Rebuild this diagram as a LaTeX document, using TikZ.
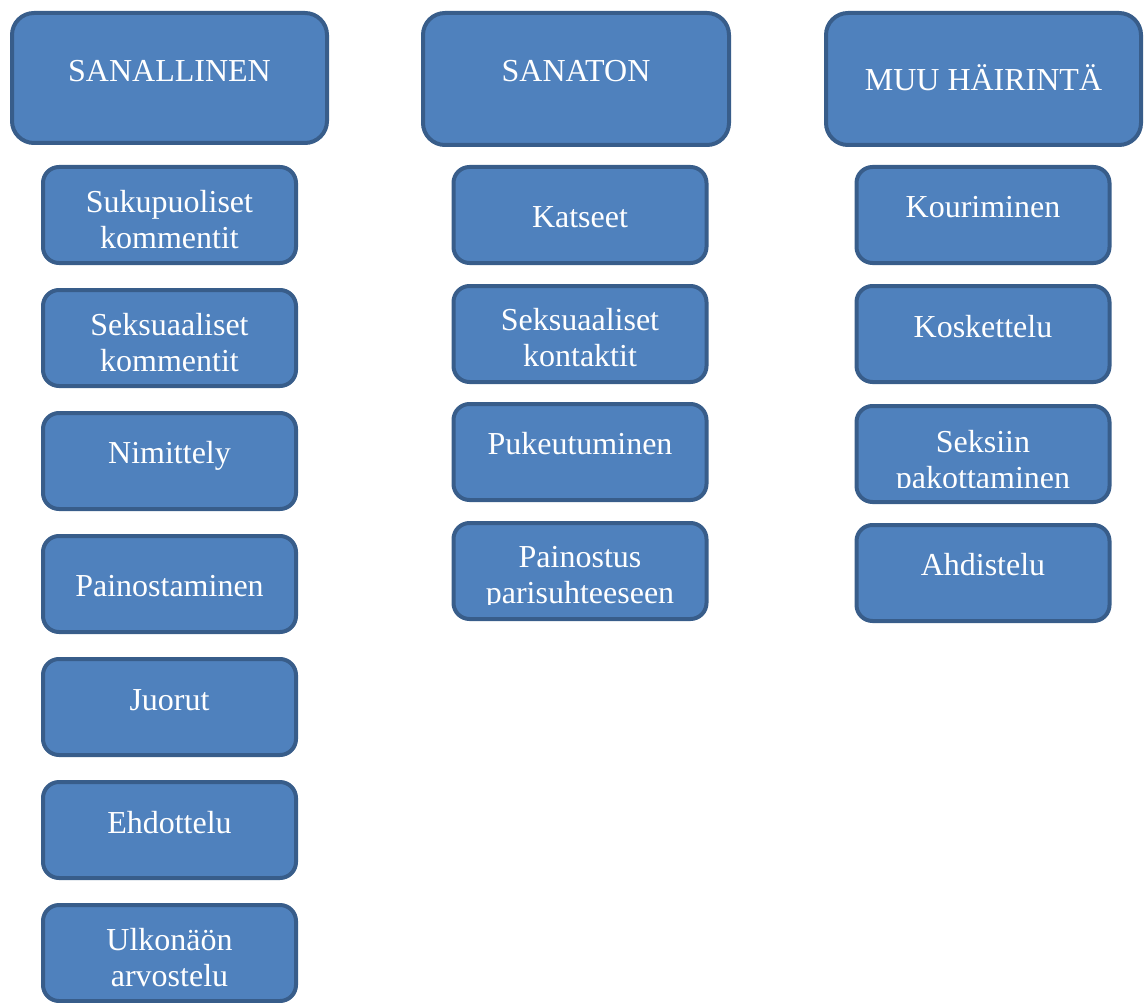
\documentclass[tikz,border=0pt]{standalone}
\usepackage{fontspec}
\setmainfont{Liberation Serif}
\usepackage{xcolor}
\definecolor{boxblue}{HTML}{4F81BD}
\definecolor{boxline}{HTML}{385D8A}

\begin{document}
\begin{tikzpicture}[x=1pt, y=-1pt,
  head/.style={draw=boxline, fill=boxblue, line width=4pt, rounded corners=22pt,
    minimum width=315pt, minimum height=132pt, inner sep=0pt},
  kid/.style={draw=boxline, fill=boxblue, line width=4pt, rounded corners=16pt,
    minimum width=253pt, minimum height=96pt, inner sep=0pt},
  lbl/.style={text=white, font=\fontsize{32}{36}\selectfont, align=center,
    anchor=base, inner sep=0pt}]
\useasboundingbox (0, 0) rectangle (1145, 1003);

\node[head, minimum height=130pt] at (169.5, 78) (sanallinen) {};
\node[head, minimum width=306pt]  at (576, 79)   (sanaton)    {};
\node[head]                       at (983.5, 79) (muu)        {};
\node[lbl] at (169.5, 82) (t-sanallinen) {SANALLINEN};
\node[lbl] at (576, 82)   (t-sanaton)    {SANATON};
\node[lbl] at (983.5, 91) (t-muu)        {MUU HÄIRINTÄ};

\node[kid] at (169.5, 215) (suku)   {};
\node[kid] at (169.5, 338) (seksk)  {};
\node[kid] at (169.5, 461) (nimi)   {};
\node[kid] at (169.5, 584) (paino)  {};
\node[kid] at (169.5, 707) (juoru)  {};
\node[kid] at (169.5, 830) (ehdo)   {};
\node[kid] at (169.5, 953) (ulko)   {};
\node[lbl] at (169.5, 248) (t-suku)  {Sukupuoliset\\kommentit};
\node[lbl] at (169.5, 371) (t-seksk) {Seksuaaliset\\kommentit};
\node[lbl] at (169.5, 463) (t-nimi)  {Nimittely};
\node[lbl] at (169.5, 596) (t-paino) {Painostaminen};
\node[lbl] at (169.5, 710) (t-juoru) {Juorut};
\node[lbl] at (169.5, 833) (t-ehdo)  {Ehdottelu};
\begin{scope}
\clip (ulko.north west) rectangle ([yshift=17pt]ulko.south east);
\node[lbl] at (169.5, 986) (t-ulko)  {Ulkonäön\\arvostelu};
\end{scope}

\node[kid] at (580, 215) (katse)  {};
\node[kid] at (580, 334) (kont)   {};
\node[kid] at (580, 452) (puke)   {};
\node[kid] at (580, 571) (pari)   {};
\node[lbl] at (580, 227) (t-katse) {Katseet};
\node[lbl] at (580, 366) (t-kont)  {Seksuaaliset\\kontaktit};
\node[lbl] at (580, 454) (t-puke)  {Pukeutuminen};
\begin{scope}
\clip (pari.north west) rectangle ([yshift=17pt]pari.south east);
\node[lbl] at (580, 603) (t-pari)  {Painostus\\parisuhteeseen};
\end{scope}

\node[kid] at (983, 215) (kouri)  {};
\node[kid] at (983, 334) (koske)  {};
\node[kid] at (983, 454) (pakko)  {};
\node[kid] at (983, 573) (ahdi)   {};
\node[lbl] at (983, 217) (t-kouri) {Kouriminen};
\node[lbl] at (983, 337) (t-koske) {Koskettelu};
\begin{scope}
\clip (pakko.north west) rectangle ([yshift=17pt]pakko.south east);
\node[lbl] at (983, 488) (t-pakko) {Seksiin\\pakottaminen};
\end{scope}
\node[lbl] at (983, 575) (t-ahdi)  {Ahdistelu};
\end{tikzpicture}
\end{document}
